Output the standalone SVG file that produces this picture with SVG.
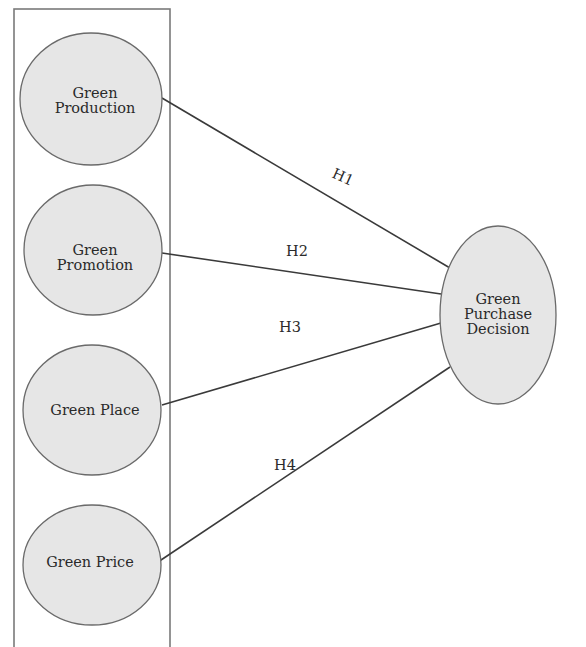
<svg xmlns="http://www.w3.org/2000/svg" width="586" height="647" viewBox="0 0 586 647">
<style>
.node ellipse{fill:#e6e6e6;stroke:#6a6a6a;stroke-width:1.3}
.lbl{font-family:"DejaVu Serif","Liberation Serif",serif;font-size:14.5px;fill:#2a2a2a;text-anchor:middle}
.conn line{stroke:#3a3a3a;stroke-width:1.6}
</style>
<rect width="586" height="647" fill="#ffffff"/>
<rect id="frame" x="14" y="9" width="156" height="660" fill="none" stroke="#7a7a7a" stroke-width="1.6"/>
<g id="connectors" class="conn">
<line x1="162" y1="98" x2="450" y2="268"/>
<line x1="162" y1="253" x2="441" y2="294"/>
<line x1="162" y1="405" x2="441" y2="323"/>
<line x1="158" y1="562" x2="450" y2="367"/>
</g>
<g id="hlabels" class="lbl">
<text x="343" y="182" transform="rotate(24 343 177)">H1</text>
<text x="297" y="256">H2</text>
<text x="290" y="332">H3</text>
<text x="285" y="470">H4</text>
</g>
<g id="green-production" class="node">
<ellipse cx="91" cy="99" rx="71" ry="66"/>
<text class="lbl" x="95" y="98">Green</text>
<text class="lbl" x="95" y="113">Production</text>
</g>
<g id="green-promotion" class="node">
<ellipse cx="93" cy="250" rx="69" ry="65"/>
<text class="lbl" x="95" y="255">Green</text>
<text class="lbl" x="95" y="270">Promotion</text>
</g>
<g id="green-place" class="node">
<ellipse cx="92" cy="410" rx="69" ry="65"/>
<text class="lbl" x="95" y="415">Green Place</text>
</g>
<g id="green-price" class="node">
<ellipse cx="92" cy="565" rx="69" ry="60"/>
<text class="lbl" x="90" y="567">Green Price</text>
</g>
<g id="green-purchase-decision" class="node">
<ellipse cx="498" cy="315" rx="58" ry="89"/>
<text class="lbl" x="498" y="304">Green</text>
<text class="lbl" x="498" y="319">Purchase</text>
<text class="lbl" x="498" y="334">Decision</text>
</g>
</svg>
